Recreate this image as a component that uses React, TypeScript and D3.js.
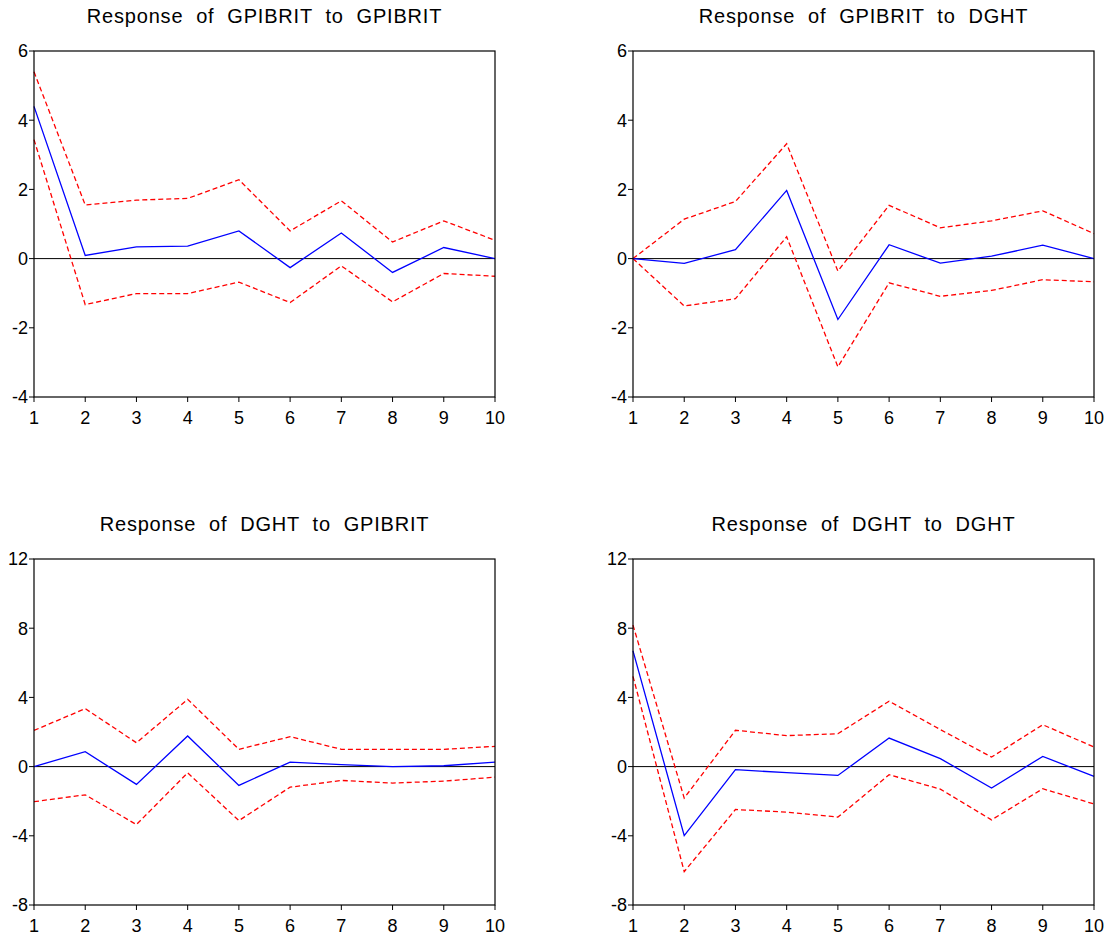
import React from "react";
import * as d3 from "d3";

// impulse responses, periods 1..10
const periods = [1, 2, 3, 4, 5, 6, 7, 8, 9, 10];

const gpiGpiResp = [4.40, 0.09, 0.34, 0.36, 0.80, -0.26, 0.74, -0.40, 0.32, 0.0];
const gpiGpiUpper = [5.40, 1.55, 1.69, 1.74, 2.28, 0.80, 1.67, 0.48, 1.09, 0.53];
const gpiGpiLower = [3.44, -1.33, -1.01, -1.01, -0.68, -1.27, -0.21, -1.25, -0.43, -0.51];

const gpiDghtResp = [0.0, -0.14, 0.26, 1.97, -1.76, 0.40, -0.13, 0.07, 0.39, 0.0];
const gpiDghtUpper = [0.0, 1.14, 1.65, 3.32, -0.36, 1.54, 0.89, 1.09, 1.38, 0.72];
const gpiDghtLower = [0.0, -1.37, -1.16, 0.63, -3.13, -0.70, -1.09, -0.92, -0.61, -0.67];

const dghtGpiResp = [0.0, 0.86, -1.03, 1.77, -1.09, 0.26, 0.11, 0.0, 0.05, 0.26];
const dghtGpiUpper = [2.09, 3.35, 1.38, 3.89, 1.00, 1.73, 1.00, 1.00, 1.00, 1.17];
const dghtGpiLower = [-2.03, -1.63, -3.35, -0.36, -3.12, -1.19, -0.80, -0.95, -0.84, -0.61];

const dghtDghtResp = [6.69, -3.99, -0.18, -0.35, -0.51, 1.65, 0.46, -1.24, 0.59, -0.57];
const dghtDghtUpper = [8.18, -1.82, 2.10, 1.79, 1.90, 3.78, 2.14, 0.55, 2.42, 1.13];
const dghtDghtLower = [5.22, -6.07, -2.48, -2.63, -2.92, -0.47, -1.30, -3.08, -1.28, -2.16];

const ticksTop = [-4, -2, 0, 2, 4, 6];
const ticksBottom = [-8, -4, 0, 4, 8, 12];

const titles = [
    "Response of GPIBRIT to GPIBRIT",
    "Response of GPIBRIT to DGHT",
    "Response of DGHT to GPIBRIT",
    "Response of DGHT to DGHT",
];

const FONT = "Arial, 'Liberation Sans', sans-serif";

function Panel(props) {
    let { left, top, width, height, title, resp, upper, lower, yTicks } = props;

    var x = d3.scaleLinear().domain([1, 10]).range([left, left + width]);
    var y = d3.scaleLinear()
        .domain([yTicks[0], yTicks[yTicks.length - 1]])
        .range([top + height, top]);

    var line = d3.line()
        .x(function (d, i) { return x(periods[i]); })
        .y(function (d) { return y(d); });

    return (
        <g>
            <text x={left + width / 2} y={top - 28} textAnchor="middle"
                fontFamily={FONT} fontSize={20} wordSpacing={6.5} letterSpacing={0.8}>
                {title}
            </text>
            <line x1={left} x2={left + width} y1={y(0)} y2={y(0)} stroke="#000" strokeWidth={1} />
            <path d={line(upper)} fill="none" stroke="#ff0000" strokeWidth={1.3} strokeDasharray="5,3" />
            <path d={line(lower)} fill="none" stroke="#ff0000" strokeWidth={1.3} strokeDasharray="5,3" />
            <path d={line(resp)} fill="none" stroke="#0000ff" strokeWidth={1.3} />
            <rect x={left} y={top} width={width} height={height} fill="none" stroke="#000" strokeWidth={1.2} />
            {yTicks.map(function (t) {
                return (
                    <g key={"y" + t}>
                        <line x1={left - 5} x2={left} y1={y(t)} y2={y(t)} stroke="#000" />
                        <text x={left - 6} y={y(t)} dy="0.36em" textAnchor="end"
                            fontFamily={FONT} fontSize={18}>{t}</text>
                    </g>
                );
            })}
            {periods.map(function (p) {
                return (
                    <g key={"x" + p}>
                        <line x1={x(p)} x2={x(p)} y1={top + height} y2={top + height + 5} stroke="#000" />
                        <text x={x(p)} y={top + height + 27} textAnchor="middle"
                            fontFamily={FONT} fontSize={18}>{p}</text>
                    </g>
                );
            })}
        </g>
    );
}

export default function App() {
    var colLeft = [34, 633];
    var rowTop = [51, 559];
    var w = 461, h = 346;

    return (
        <svg width={1110} height={940} style={{ position: "absolute", left: 0, top: 0, background: "#fff" }}>
            <rect x={0} y={0} width={1110} height={940} fill="#fff" />
            <Panel left={colLeft[0]} top={rowTop[0]} width={w} height={h} title={titles[0]}
                resp={gpiGpiResp} upper={gpiGpiUpper} lower={gpiGpiLower} yTicks={ticksTop} />
            <Panel left={colLeft[1]} top={rowTop[0]} width={w} height={h} title={titles[1]}
                resp={gpiDghtResp} upper={gpiDghtUpper} lower={gpiDghtLower} yTicks={ticksTop} />
            <Panel left={colLeft[0]} top={rowTop[1]} width={w} height={h} title={titles[2]}
                resp={dghtGpiResp} upper={dghtGpiUpper} lower={dghtGpiLower} yTicks={ticksBottom} />
            <Panel left={colLeft[1]} top={rowTop[1]} width={w} height={h} title={titles[3]}
                resp={dghtDghtResp} upper={dghtDghtUpper} lower={dghtDghtLower} yTicks={ticksBottom} />
        </svg>
    );
}
